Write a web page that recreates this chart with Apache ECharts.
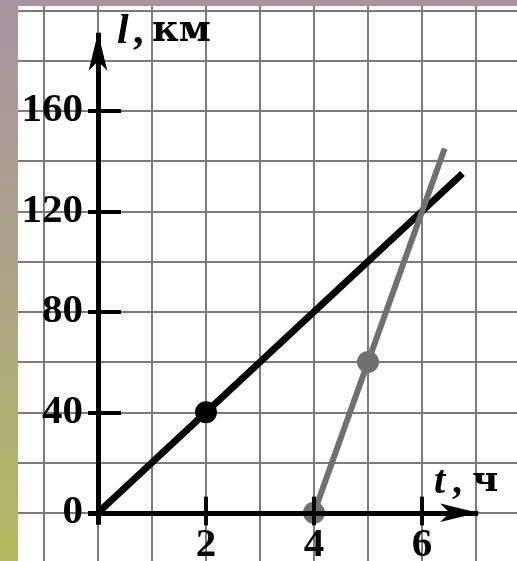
<!DOCTYPE html>
<html lang="ru">
<head>
<meta charset="UTF-8">
<title>l(t)</title>
<script src="https://cdn.jsdelivr.net/npm/echarts@6/dist/echarts.min.js"></script>
<style>
  html, body { margin: 0; padding: 0; }
  #main { width: 517px; height: 561px; }
</style>
</head>
<body>
<div id="main"></div>
<script>
  // t, ч -> l, км
  var line1 = [[0, 0], [2, 40], [6.75, 135]];
  var line2 = [[4, 0], [5, 60], [6.42, 145]];
  var dots1 = [[2, 40]];
  var dots2 = [[4, 0], [5, 60]];

  var xLabels = [2, 4, 6];
  var yLabels = [0, 40, 80, 120, 160];

  var FONT = 'Liberation Serif';
  var CYR = 'DejaVu Serif';
  var chart = echarts.init(document.getElementById('main'));

  // стрелки осей и засечки
  var axisLines = [
    [{ coord: [-0.185, 0], symbol: 'none' }, { coord: [7.04, 0], symbol: 'arrow' }],
    [{ coord: [0, -4.8], symbol: 'none' }, { coord: [0, 191], symbol: 'arrow' }]
  ];
  yLabels.slice(1).forEach(function (v) {
    axisLines.push([{ coord: [-0.185, v], symbol: 'none', lineStyle: { width: 4 } },
                    { coord: [0.426, v], symbol: 'none' }]);
  });
  xLabels.forEach(function (v) {
    axisLines.push([{ coord: [v, 6.4], symbol: 'none', lineStyle: { width: 4 } },
                    { coord: [v, -5], symbol: 'none' }]);
  });

  var labelStyle = { color: '#000', fontFamily: FONT, fontWeight: 'bold', fontSize: 41 };

  function txt(s, x, y, family, size, italic) {
    return { type: 'text', z: 50, x: x, y: y,
      style: { text: s, verticalAlign: 'middle', fill: '#000', fontFamily: family,
        fontWeight: 'bold', fontStyle: italic ? 'italic' : 'normal', fontSize: size } };
  }

  var option = {
    animation: false,
    grid: { left: -10, top: -40, width: 540, height: 603, outerBoundsMode: 'none', containLabel: false },
    xAxis: {
      type: 'value', min: -2, max: 8, interval: 1,
      position: 'bottom', offset: -50,
      axisLine: { show: false, onZero: false },
      axisTick: { show: false },
      splitLine: { show: true, lineStyle: { color: '#7b7b7b', width: 2 } },
      axisLabel: Object.assign({
        margin: 12, showMinLabel: true, showMaxLabel: true,
        formatter: function (v) { return xLabels.indexOf(Math.round(v)) >= 0 ? String(Math.round(v)) : ''; }
      }, labelStyle)
    },
    yAxis: {
      type: 'value', min: -20, max: 220, interval: 20,
      position: 'left', offset: -108,
      axisLine: { show: false, onZero: false },
      axisTick: { show: false },
      splitLine: { show: true, lineStyle: { color: '#7b7b7b', width: 2 } },
      axisLabel: Object.assign({
        margin: 15, showMinLabel: true, showMaxLabel: true,
        formatter: function (v) { return yLabels.indexOf(Math.round(v)) >= 0 ? String(Math.round(v)) : ''; }
      }, labelStyle)
    },
    graphic: [
      { type: 'rect', z: -20, shape: { x: 0, y: 0, width: 517, height: 561 },
        style: { fill: new echarts.graphic.LinearGradient(0, 0, 0, 1, [
          { offset: 0, color: '#a694a0' }, { offset: 0.5, color: '#aca587' }, { offset: 1, color: '#b4ba5f' }]) } },
      { type: 'rect', z: -10, shape: { x: 18, y: 6, width: 499, height: 555 }, style: { fill: '#fff' } },
      { type: 'rect', z: 100, shape: { x: 0, y: 0, width: 18, height: 561 },
        style: { fill: new echarts.graphic.LinearGradient(0, 0, 0, 1, [
          { offset: 0, color: '#a694a0' }, { offset: 0.5, color: '#aca587' }, { offset: 1, color: '#b4ba5f' }]) } },
      { type: 'rect', z: 100, shape: { x: 0, y: 0, width: 517, height: 6 }, style: { fill: '#a694a0' } },
      // подписи осей
      txt('l', 117, 32, FONT, 42, true),
      txt(',', 133, 32, FONT, 42, false),
      txt('км', 152, 31, CYR, 37, false),
      txt('t', 434, 483, FONT, 40, true),
      txt(',', 452, 483, FONT, 40, false),
      txt('ч', 472, 482, CYR, 36, false)
    ],
    series: [
      {
        type: 'line', z: 1, data: [], silent: true,
        markLine: {
          silent: true, animation: false,
          symbolSize: [14, 38],
          label: { show: false },
          lineStyle: { color: '#000', width: 5, type: 'solid' },
          itemStyle: { color: '#000' },
          data: axisLines
        }
      },
      { type: 'line', z: 2, data: line1, showSymbol: false, lineStyle: { color: '#000', width: 7 } },
      { type: 'line', z: 2, data: line2, showSymbol: false, lineStyle: { color: '#707070', width: 6 } },
      { type: 'scatter', z: 3, data: dots1, symbolSize: 22, itemStyle: { color: '#000', opacity: 1 } },
      { type: 'scatter', z: 3, data: dots2, symbolSize: 22, itemStyle: { color: '#707070', opacity: 1 } }
    ]
  };

  chart.setOption(option);
</script>
</body>
</html>
